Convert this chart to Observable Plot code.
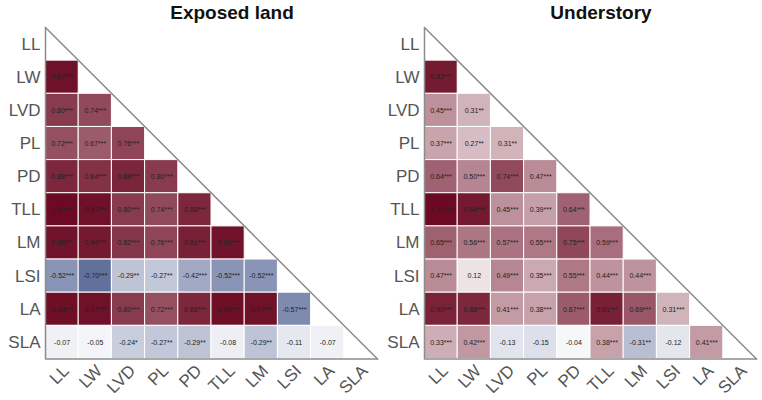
<!DOCTYPE html>
<html>
<head>
<meta charset="utf-8">
<script src="https://cdn.jsdelivr.net/npm/d3@7"></script>
<script src="https://cdn.jsdelivr.net/npm/@observablehq/plot@0.6"></script>
<style>
  html, body { margin: 0; padding: 0; background: #fff; }
  #wrap { position: relative; width: 762px; height: 400px; font-family: "Liberation Sans", Arial, sans-serif; }
  .title { position: absolute; top: 2px; font-weight: bold; font-size: 19px; color: #111; transform: translateX(-50%); white-space: nowrap; }
  #left { position: absolute; left: 0; top: 0; }
  #right { position: absolute; left: 381px; top: 0; }
</style>
</head>
<body>
<div id="wrap">
  <div id="left"></div>
  <div id="right"></div>
  <div class="title" id="t1" style="left:232px">Exposed land</div>
  <div class="title" id="t2" style="left:601px">Understory</div>
</div>
<script>
const traits = ["LL", "LW", "LVD", "PL", "PD", "TLL", "LM", "LSI", "LA", "SLA"];
const panelTitles = ["Exposed land", "Understory"];

// Lower-triangle correlations, row by row (row i has i values, columns LL..)
const exposedValues = [
  [],
  [0.97],
  [0.80, 0.74],
  [0.72, 0.67, 0.76],
  [0.88, 0.84, 0.89, 0.80],
  [1.00, 0.97, 0.80, 0.74, 0.88],
  [0.96, 0.94, 0.82, 0.76, 0.91, 0.96],
  [-0.52, -0.70, -0.29, -0.27, -0.42, -0.52, -0.52],
  [0.98, 0.97, 0.80, 0.72, 0.88, 0.98, 0.97, -0.57],
  [-0.07, -0.05, -0.24, -0.27, -0.29, -0.08, -0.29, -0.11, -0.07]
];
const exposedStars = [
  [],
  ["***"],
  ["***", "***"],
  ["***", "***", "***"],
  ["***", "***", "***", "***"],
  ["***", "***", "***", "***", "***"],
  ["***", "***", "***", "***", "***", "***"],
  ["***", "***", "**", "**", "***", "***", "***"],
  ["***", "***", "***", "***", "***", "***", "***", "***"],
  ["", "", "*", "**", "**", "", "**", "", ""]
];
const understoryValues = [
  [],
  [0.93],
  [0.45, 0.31],
  [0.37, 0.27, 0.31],
  [0.64, 0.50, 0.74, 0.47],
  [1.00, 0.94, 0.45, 0.39, 0.64],
  [0.65, 0.56, 0.57, 0.55, 0.75, 0.59],
  [0.47, 0.12, 0.49, 0.35, 0.55, 0.44, 0.44],
  [0.90, 0.88, 0.41, 0.38, 0.67, 0.91, 0.69, 0.31],
  [0.33, 0.42, -0.13, -0.15, -0.04, 0.38, -0.31, -0.12, 0.41]
];
const understoryStars = [
  [],
  ["***"],
  ["***", "**"],
  ["***", "**", "**"],
  ["***", "***", "***", "***"],
  ["***", "***", "***", "***", "***"],
  ["***", "***", "***", "***", "***", "***"],
  ["***", "", "***", "***", "***", "***", "***"],
  ["***", "***", "***", "***", "***", "***", "***", "***"],
  ["***", "***", "", "", "", "***", "**", "", "***"]
];

const font = "'Liberation Sans', Arial, sans-serif";

function buildCells(values, stars) {
  const cells = [];
  values.forEach((row, i) => row.forEach((v, j) => {
    cells.push({row: i, col: j, value: v, label: v.toFixed(2) + stars[i][j]});
  }));
  return cells;
}

function panel(values, stars, marginLeft, marginRight) {
  const cells = buildCells(values, stars);
  const n = traits.length;
  const ticks = d3.range(n).map(i => i + 0.5);
  const fmt = d => traits[Math.floor(d)];
  return Plot.plot({
    width: 381,
    height: 400,
    marginLeft,
    marginRight,
    marginTop: 27,
    marginBottom: 41.5,
    style: {fontFamily: font, background: "white"},
    x: {domain: [0, n], axis: null},
    y: {domain: [0, n], reverse: true, axis: null},
    color: {type: "linear", domain: [-1, 0, 1], range: ["#1e3272", "#ffffff", "#6b0a22"]},
    marks: [
      Plot.rect(cells, {
        x1: d => d.col, x2: d => d.col + 1,
        y1: d => d.row, y2: d => d.row + 1,
        fill: "value", stroke: "white", strokeWidth: 1
      }),
      Plot.text(cells, {
        x: d => d.col + 0.5, y: d => d.row + 0.5, text: "label",
        fontSize: 7, fill: "#222"
      }),
      Plot.line([[0, 0], [0, n], [n, n]], {x: d => d[0], y: d => d[1], stroke: "#8c8c8c", strokeWidth: 1.5}),
      Plot.line([[0, 0], [n, n]], {x: d => d[0], y: d => d[1], stroke: "#8c8c8c", strokeWidth: 1.5}),
      Plot.axisY({ticks, tickFormat: fmt, tickSize: 0, tickPadding: 5, fontSize: 17, color: "#555", label: null}),
      Plot.axisX({ticks, tickFormat: fmt, tickSize: 0, tickPadding: 6, tickRotate: -45, fontSize: 17, color: "#555", label: null, dx: 4, dy: 3})
    ]
  });
}

document.getElementById("left").append(panel(exposedValues, exposedStars, 45, 4));
document.getElementById("right").append(panel(understoryValues, understoryStars, 43, 6));
</script>
</body>
</html>
